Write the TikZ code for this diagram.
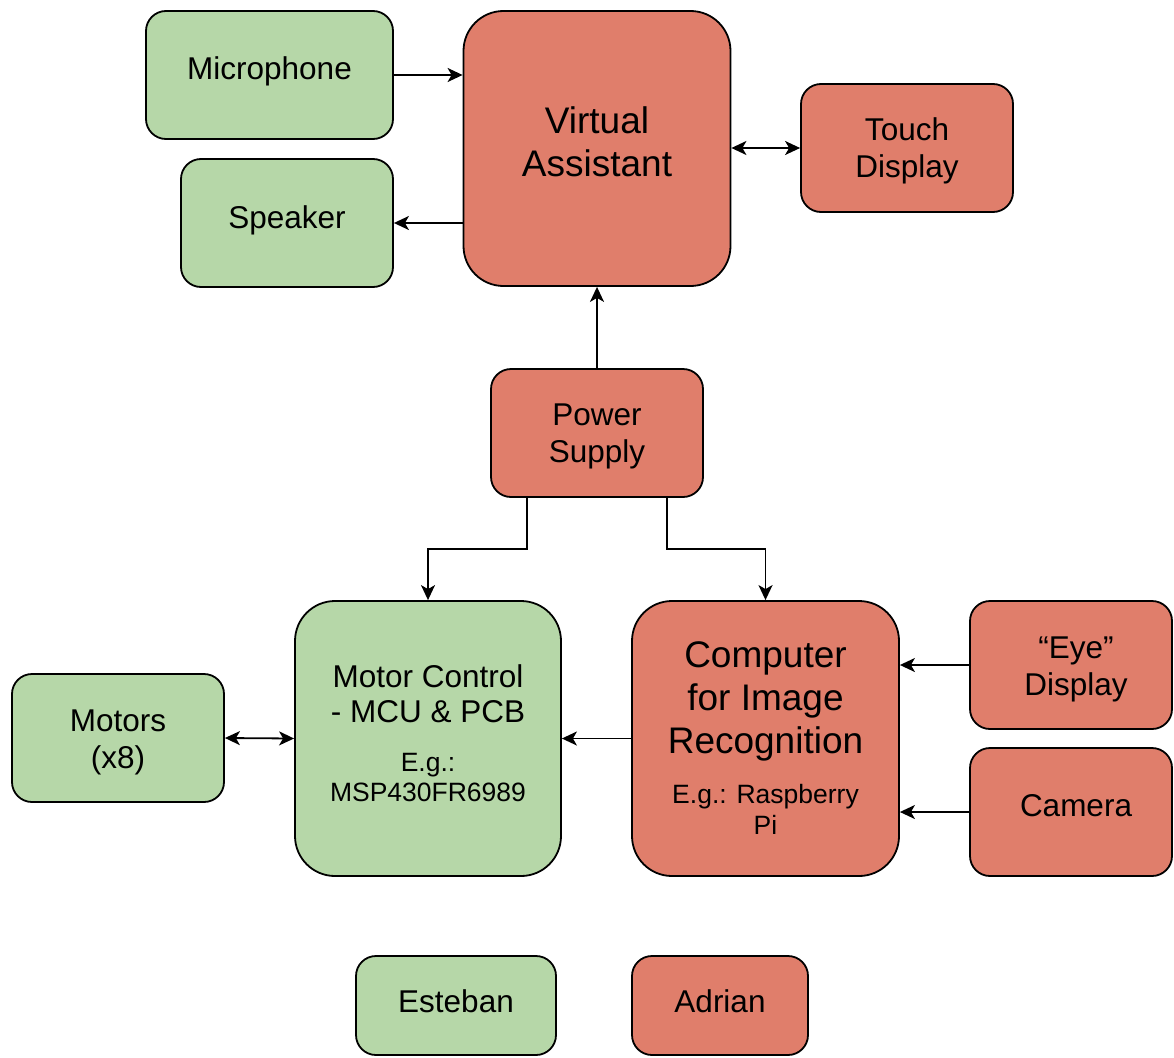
\documentclass[tikz,border=0pt]{standalone}
\usepackage{fontspec}
\setmainfont{Liberation Sans}
\usetikzlibrary{arrows.meta,calc}
\definecolor{boxgreen}{HTML}{B6D7A8}
\definecolor{boxred}{HTML}{E07E6B}
\newcommand{\fN}{\fontsize{31.5}{37}\selectfont}
\newcommand{\fM}{\fontsize{31.5}{35}\selectfont}
\newcommand{\fB}{\fontsize{37}{43}\selectfont}
\newcommand{\fS}{\fontsize{26.5}{30}\selectfont}
\newcommand{\tb}[3][0pt]{\raisebox{#2}[\height][\depth]{\hspace*{#1}\begin{tabular}{@{}c@{}}#3\end{tabular}}}
\tikzset{
  blk/.style={draw=black, line width=1.8pt, rounded corners=20pt, minimum width=212pt, minimum height=128pt, inner sep=0pt, font=\fN},
  bigblk/.style={blk, rounded corners=40pt, minimum width=267pt, minimum height=275pt},
  grn/.style={fill=boxgreen},
  red/.style={fill=boxred},
  arr/.style={line width=1.8pt, -{Stealth[length=15pt,width=14pt,inset=4pt]}},
  darr/.style={line width=1.8pt, {Stealth[length=15pt,width=14pt,inset=4pt]}-{Stealth[length=15pt,width=14pt,inset=4pt]}}
}
\begin{document}
\begin{tikzpicture}[x=1pt,y=-1pt]
\useasboundingbox (0,0) rectangle (1174,1057);
\node[blk,grn,minimum width=247pt] (mic) at (269.5,75) {\tb{3pt}{Microphone}};
\node[blk,grn] (spk) at (287,223) {\tb{2pt}{Speaker}};
\node[bigblk,red,font=\fB] (va) at (597,148.5) {\tb{2.3pt}{Virtual\\Assistant}};
\node[blk,red] (touch) at (907,148) {\tb{-3.9pt}{Touch\\Display}};
\node[blk,red] (power) at (597,433) {\tb{-3.4pt}{Power\\Supply}};
\node[bigblk,grn,minimum width=266pt,font=\fM] (mc) at (428,738.5)
  {\raisebox{5pt}[\height][\depth]{\parbox{250pt}{\centering\fM Motor Control\\- MCU \& PCB\\[19.2pt]\fS E.g.:\\MSP430FR6989}}};
\node[bigblk,red,text width=250pt,font=\fB,align=flush center] (comp) at (765.5,738.5)
  {Computer\\for Image\\Recognition\\[20pt]\fS E.g.: Raspberry\\[-12pt]Pi};
\node[blk,red,minimum width=202pt] (eye) at (1071,665) {\tb[10pt]{-4.9pt}{“Eye”\\Display}};
\node[blk,red,minimum width=202pt] (cam) at (1071,812) {\tb[10pt]{3pt}{Camera}};
\node[blk,grn] (motors) at (118,738) {\tb{-4.9pt}{Motors\\(x8)}};
\node[blk,grn,minimum width=200pt,minimum height=99pt] (est) at (456,1005.5) {\tb{0.6pt}{Esteban}};
\node[blk,red,minimum width=176pt,minimum height=99pt] (adr) at (720,1005.5) {\tb{0.6pt}{Adrian}};

\draw[arr] (mic.east) -- (mic.east -| va.west);
\draw[arr] (va.west |- spk.east) -- (spk.east);
\draw[darr] (va.east |- touch.west) -- (touch.west);
\draw[arr] (power.north) -- (va.south);
\draw[arr] ([xshift=-70pt]power.south) -- ++(0,51) -| (mc.north);
\draw[arr] ([xshift=70pt]power.south) -- ++(0,51) -| (comp.north);
\draw[arr] (comp.west) -- (mc.east);
\draw[arr] (eye.west) -- (eye.west -| comp.east);
\draw[arr] (cam.west) -- (cam.west -| comp.east);
\draw[darr] (motors.east) -- (mc.west);
\end{tikzpicture}
\end{document}
